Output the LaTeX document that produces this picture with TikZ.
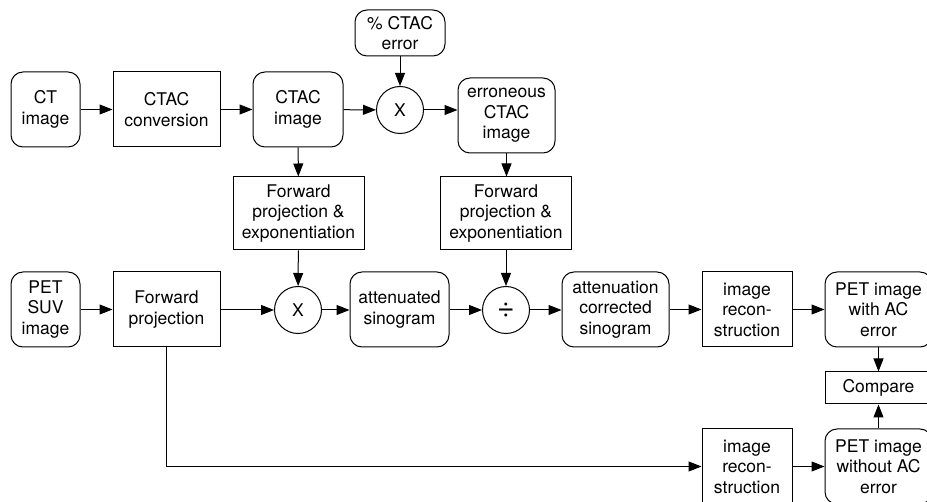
\documentclass[tikz,border=0pt]{standalone}
\usepackage{fontspec}
\setmainfont{TeX Gyre Heros}
\usetikzlibrary{arrows.meta}
\begin{document}
\begin{tikzpicture}[x=1pt,y=-1pt,
  every node/.style={font=\fontsize{17.5}{20.5}\selectfont, align=center, inner sep=0pt, line width=1pt},
  rbox/.style={draw, rounded corners=12pt},
  sbox/.style={draw},
  opcirc/.style={draw, circle, minimum size=47pt},
  conn/.style={line width=1pt, -{Triangle[length=13pt,width=10pt]}}
]
\useasboundingbox (0,0) rectangle (927,502);
% top row
\node[rbox, minimum width=69pt, minimum height=75pt] (ct) at (45.5,109.5) {CT\\image};
\node[sbox, minimum width=107pt, minimum height=75pt] (ctacconv) at (166.5,109.5) {CTAC\\conversion};
\node[rbox, minimum width=90pt, minimum height=75pt] (ctacimg) at (298,109.5) {CTAC\\image};
\node[rbox, minimum width=90pt, minimum height=46pt] (pcterr) at (400,33) {\% CTAC\\error};
\node[opcirc] (x1) at (400,110) {X};
\node[rbox, minimum width=97pt, minimum height=75pt] (errimg) at (506.5,115.5) {erroneous\\CTAC\\image};
\node[sbox, minimum width=131pt, minimum height=73pt] (fp1) at (298.5,213.5) {Forward\\projection \&\\exponentiation};
\node[sbox, minimum width=131pt, minimum height=73pt] (fp2) at (506,213.5) {Forward\\projection \&\\exponentiation};
% middle row
\node[rbox, minimum width=69pt, minimum height=75pt] (pet) at (45.5,309.5) {PET\\SUV\\image};
\node[sbox, minimum width=107pt, minimum height=75pt] (fproj) at (166.5,309.5) {Forward\\projection};
\node[opcirc] (x2) at (298,310) {X};
\node[rbox, minimum width=99pt, minimum height=75pt] (atten) at (399.5,309.5) {attenuated\\sinogram};
\node[opcirc] (div) at (506,310) {\fontsize{30}{30}\selectfont ÷};
\node[rbox, minimum width=107pt, minimum height=75pt] (acs) at (615.5,309.5) {attenuation\\corrected\\sinogram};
\node[sbox, minimum width=90pt, minimum height=75pt] (rec1) at (747,309.5) {image\\recon-\\struction};
\node[rbox, minimum width=107pt, minimum height=75pt] (petw) at (878.5,309.5) {PET image\\with AC\\error};
\node[sbox, minimum width=107pt, minimum height=32pt] (cmp) at (878.5,388) {Compare};
% bottom row
\node[sbox, minimum width=90pt, minimum height=75pt] (rec2) at (747,466.5) {image\\recon-\\struction};
\node[rbox, minimum width=107pt, minimum height=75pt] (petwo) at (878.5,466.5) {PET image\\without AC\\error};
% connectors
\draw[conn] (ct) -- (ctacconv);
\draw[conn] (ctacconv) -- (ctacimg);
\draw[conn] (ctacimg) -- (x1);
\draw[conn] (pcterr) -- (x1);
\draw[conn] (x1.east) -- (errimg.west |- x1.east);
\draw[conn] (ctacimg) -- (fp1);
\draw[conn] (errimg) -- (errimg |- fp2.north);
\draw[conn] (fp1) -- (x2);
\draw[conn] (fp2.south -| div) -- (div);
\draw[conn] (pet) -- (pet -| fproj.west);
\draw[conn] (fproj.east |- x2) -- (x2);
\draw[conn] (x2) -- (x2 -| atten.west);
\draw[conn] (atten.east |- div) -- (div);
\draw[conn] (div) -- (div -| acs.west);
\draw[conn] (acs) -- (rec1);
\draw[conn] (rec1) -- (petw);
\draw[conn] (petw) -- (cmp);
\draw[conn] (petwo) -- (cmp);
\draw[conn] (rec2) -- (petwo);
\draw[conn] (fproj.south) |- (rec2.west);
\end{tikzpicture}
\end{document}
